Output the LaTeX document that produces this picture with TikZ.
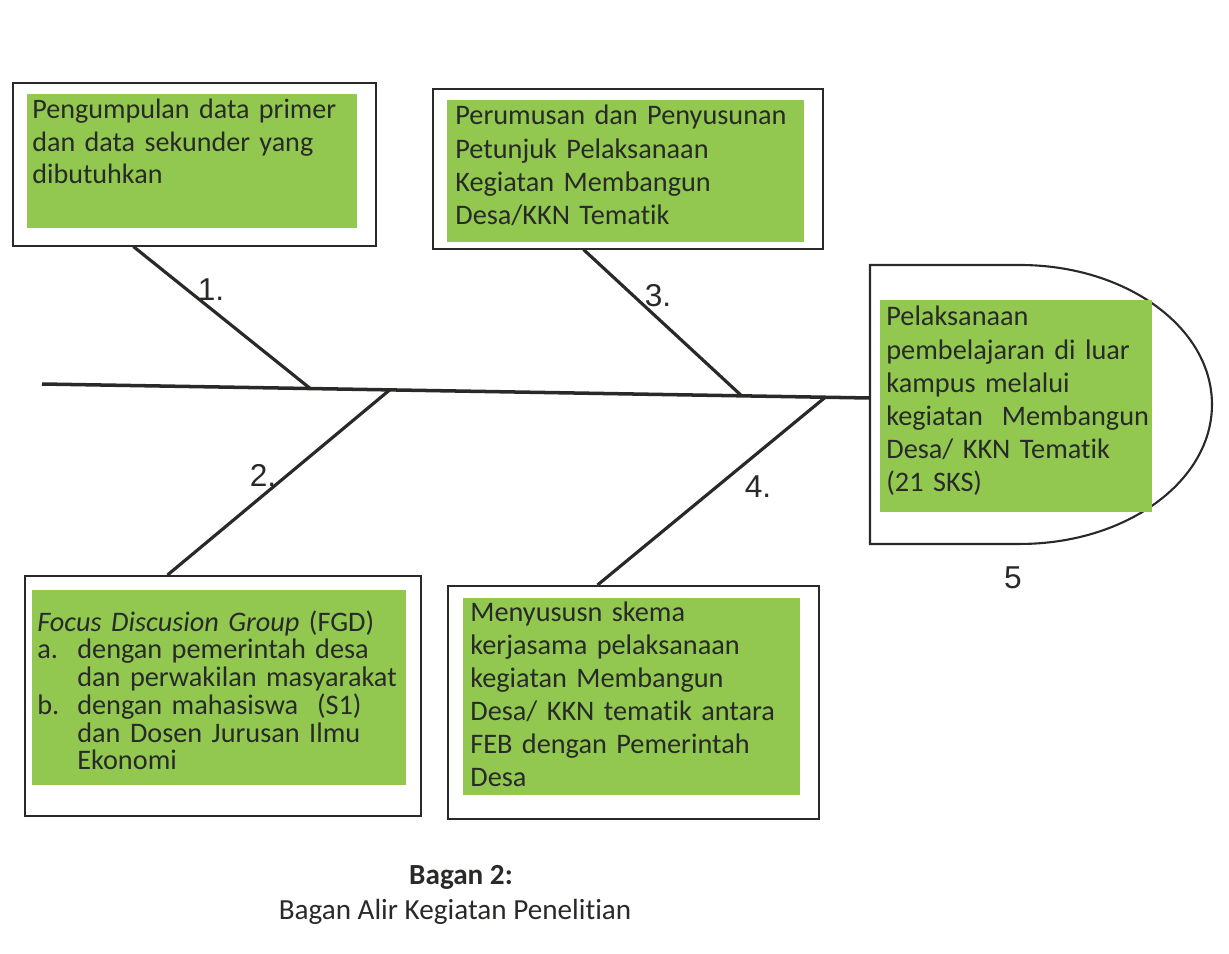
\documentclass[tikz,border=0pt]{standalone}
\usepackage{fontspec}
\setmainfont{Carlito}[Ligatures={NoCommon}]
\newfontfamily\numfont{Liberation Sans}
\usetikzlibrary{calc}
\definecolor{leafgreen}{RGB}{146,200,80}
\definecolor{inkgrey}{RGB}{40,42,40}
\tikzset{
  outerbox/.style={draw=inkgrey, line width=0.9pt, anchor=north west, inner sep=0pt},
  greenbox/.style={fill=leafgreen, anchor=north west, inner sep=0pt},
  boxtext/.style={anchor=north west, inner sep=0pt, align=left, text=inkgrey,
    font=\fontsize{16.1}{18.8}\selectfont},
  bone/.style={draw=inkgrey, line width=1.8pt},
  bonenum/.style={font=\numfont\fontsize{18}{20}\selectfont, text=inkgrey},
}
\begin{document}
\begin{tikzpicture}[x=0.02cm, y=-0.02cm]
    \useasboundingbox (0,0) rectangle (1229,953);

    \node[outerbox, minimum width=7.26cm, minimum height=3.26cm] (out1) at (12,82) {};
    \node[greenbox, minimum width=6.6cm, minimum height=2.68cm] (green1) at (27,94) {};
    \node[boxtext, text width=6.4cm, font=\fontsize{16}{18.5}\selectfont] (txt1) at (32,99) {Pengumpulan data primer\\dan data sekunder yang\\dibutuhkan};

    \node[outerbox, minimum width=7.8cm, minimum height=3.2cm] (out3) at (432,88) {};
    \node[greenbox, minimum width=7.14cm, minimum height=2.84cm] (green3) at (447,100) {};
    \node[boxtext, text width=7cm] (txt3) at (455,105) {Perumusan dan Penyusunan\\Petunjuk Pelaksanaan\\Kegiatan Membangun\\Desa/KKN Tematik};

    \node[outerbox, minimum width=7.92cm, minimum height=4.8cm] (out2) at (24,575) {};
    \node[greenbox, minimum width=7.48cm, minimum height=3.9cm] (green2) at (32,590) {};
    \node[boxtext, text width=7.4cm, font=\fontsize{16.1}{15.8}\selectfont] (txt2) at (37,610)
        {\textit{Focus Discusion Group} (FGD)\\
         \makebox[0.8cm][l]{a.}dengan pemerintah desa\\
         \hspace*{0.8cm}dan perwakilan masyarakat\\
         \makebox[0.8cm][l]{b.}dengan mahasiswa~ (S1)\\
         \hspace*{0.8cm}dan Dosen Jurusan Ilmu\\
         \hspace*{0.8cm}Ekonomi};

    \node[outerbox, minimum width=7.42cm, minimum height=4.66cm] (out4) at (447,585) {};
    \node[greenbox, minimum width=6.74cm, minimum height=3.94cm] (green4) at (463,598) {};
    \node[boxtext, text width=6.6cm] (txt4) at (470,601) {Menyususn skema\\kerjasama pelaksanaan\\kegiatan Membangun\\Desa/ KKN tematik antara\\FEB dengan Pemerintah\\Desa};

    % head of the fish
    \draw[inkgrey, line width=1.2pt] (870,265) -- (1020,265)
        arc[start angle=90, end angle=-90, x radius=3.84cm, y radius=2.79cm] -- (870,544) -- cycle;
    \node[greenbox, minimum width=5.44cm, minimum height=4.24cm] (green5) at (880,300) {};
    \node[boxtext, text width=5.4cm] (txt5) at (886,306) {Pelaksanaan\\pembelajaran di luar\\kampus melalui\\kegiatan~ Membangun\\Desa/ KKN Tematik\\(21 SKS)};
    \node[bonenum] (num5) at (1013,578) {5};

    % spine and bones
    \coordinate (spL) at (42,384);
    \coordinate (spR) at (870,398);
    \draw[bone, line width=2pt] (spL) -- (spR);
    \coordinate (j1) at ($(spL)!0.324!(spR)$);
    \coordinate (j2) at ($(spL)!0.420!(spR)$);
    \coordinate (j3) at ($(spL)!0.845!(spR)$);
    \coordinate (j4) at ($(spL)!0.946!(spR)$);
    \draw[bone] ($(out1.south west)!0.333!(out1.south east)$) -- (j1);
    \draw[bone] ($(out3.south west)!0.387!(out3.south east)$) -- (j3);
    \draw[bone] ($(out2.north west)!0.361!(out2.north east)$) -- (j2);
    \draw[bone] ($(out4.north west)!0.404!(out4.north east)$) -- (j4);
    \node[bonenum] (num1) at (211,290) {1.};
    \node[bonenum] (num2) at (263,475) {2.};
    \node[bonenum] (num3) at (658,296) {3.};
    \node[bonenum] (num4) at (758,487) {4.};

    \node[font=\bfseries\fontsize{16.6}{19}\selectfont, text=inkgrey] (captitle) at (461,877) {Bagan 2:};
    \node[font=\fontsize{16.6}{19}\selectfont, text=inkgrey] (capsub) at (455,912) {Bagan Alir Kegiatan Penelitian};
\end{tikzpicture}
\end{document}
